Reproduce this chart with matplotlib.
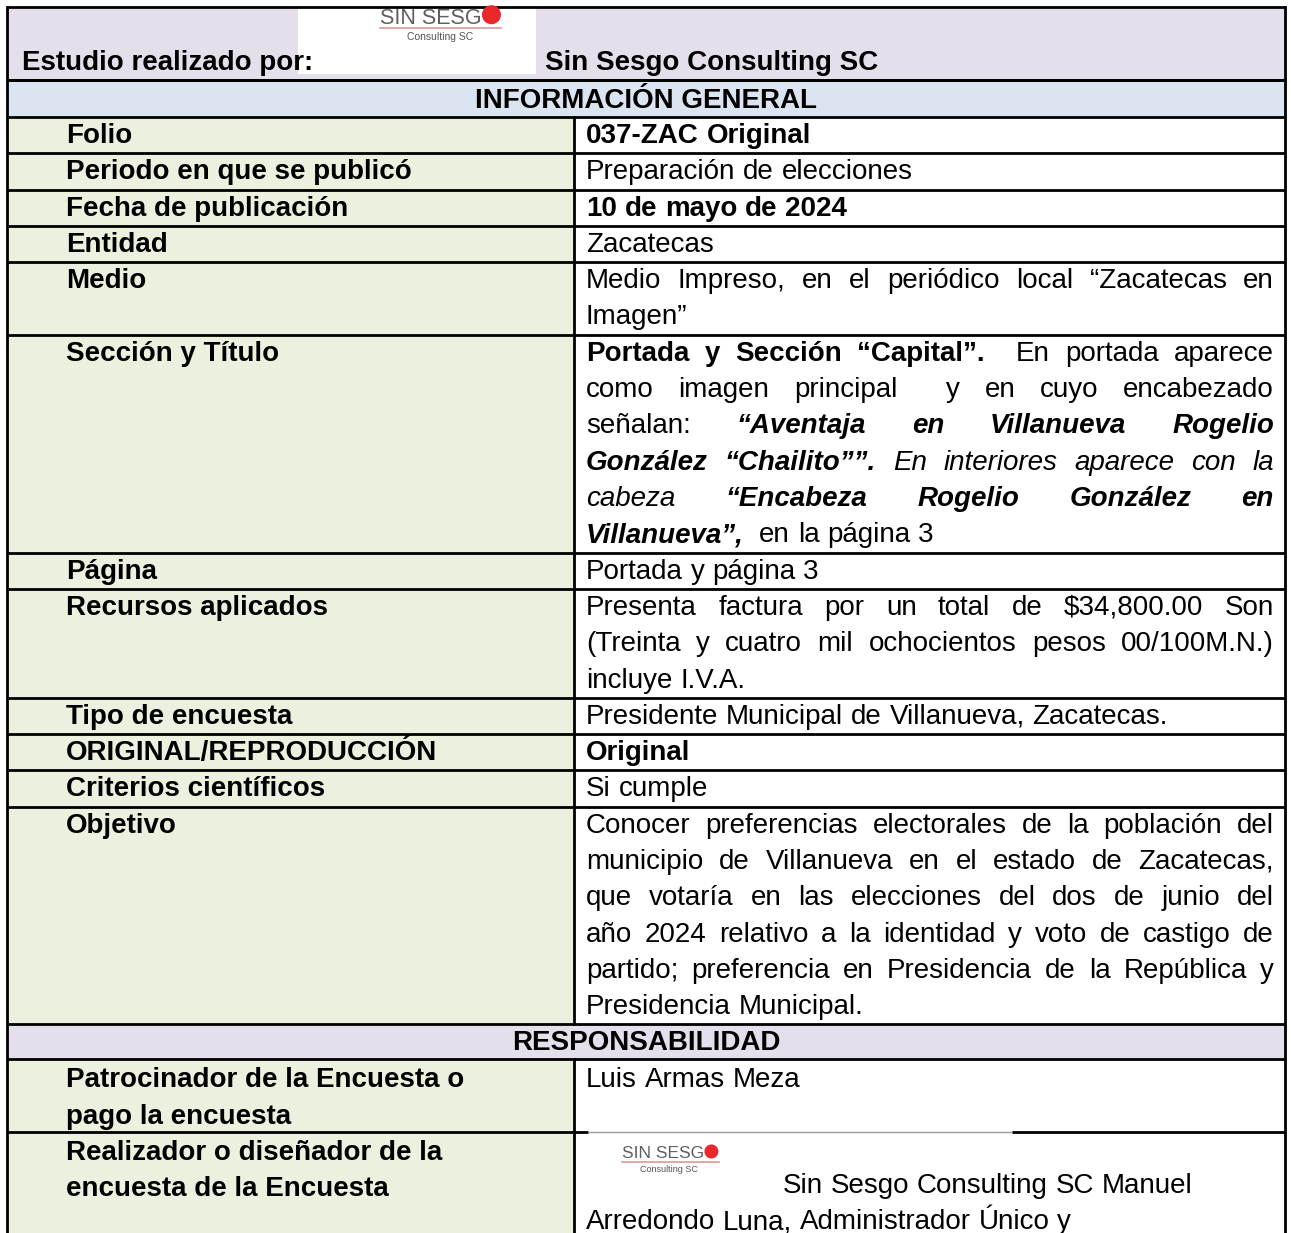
import matplotlib
matplotlib.use("Agg")
import matplotlib.pyplot as plt
from matplotlib.patches import Rectangle, Circle

plt.rcParams['font.family'] = ['Liberation Sans', 'DejaVu Sans']

W, H = 1291, 1233
FS = 20             # body font size (pt, dpi=100)
LINE_H = 36.3       # one text line in the table

# ---------------- data ----------------
header_label = "Estudio realizado por:"
header_company = "Sin Sesgo Consulting SC"
logo_word = "SIN SESG"
logo_sub = "Consulting SC"
section_titles = ["INFORMACIÓN GENERAL", "RESPONSABILIDAD"]

# runs: (style, text); style n=normal b=bold i=italic bi=bold italic
info_labels = [
    ["Folio"],
    ["Periodo en que se publicó"],
    ["Fecha de publicación"],
    ["Entidad"],
    ["Medio"],
    ["Sección y Título"],
    ["Página"],
    ["Recursos aplicados"],
    ["Tipo de encuesta"],
    ["ORIGINAL/REPRODUCCIÓN"],
    ["Criterios científicos"],
    ["Objetivo"],
]
info_values = [
    [[("b", "037-ZAC Original")]],
    [[("n", "Preparación de elecciones")]],
    [[("b", "10 de mayo de 2024")]],
    [[("n", "Zacatecas")]],
    [[("n", "Medio Impreso, en el periódico local “Zacatecas en")],
     [("n", "Imagen”")]],
    [[("b", "Portada y Sección “Capital”."), ("n", "  En portada aparece")],
     [("n", "como imagen principal  y en cuyo encabezado")],
     [("n", "señalan: "), ("bi", "“Aventaja en Villanueva Rogelio")],
     [("bi", "González “Chailito””."), ("i", " En interiores aparece con la")],
     [("i", "cabeza "), ("bi", "“Encabeza Rogelio González en")],
     [("bi", "Villanueva”,"), ("n", "  en la página 3")]],
    [[("n", "Portada y página 3")]],
    [[("n", "Presenta factura por un total de $34,800.00 Son")],
     [("n", "(Treinta y cuatro mil ochocientos pesos 00/100M.N.)")],
     [("n", "incluye I.V.A.")]],
    [[("n", "Presidente Municipal de Villanueva, Zacatecas.")]],
    [[("b", "Original")]],
    [[("n", "Si cumple")]],
    [[("n", "Conocer preferencias electorales de la población del")],
     [("n", "municipio de Villanueva en el estado de Zacatecas,")],
     [("n", "que votaría en las elecciones del dos de junio del")],
     [("n", "año 2024 relativo a la identidad y voto de castigo de")],
     [("n", "partido; preferencia en Presidencia de la República y")],
     [("n", "Presidencia Municipal.")]],
]

resp_labels = [
    ["Patrocinador de la Encuesta o", "pago la encuesta"],
    ["Realizador o diseñador de la", "encuesta de la Encuesta"],
]
resp_values = [
    [[("n", "Luis Armas Meza")]],
    [[("n", "Sin Sesgo Consulting SC Manuel")],
     [("n", "Arredondo Luna, Administrador Único y")]],
]

# ---------------- layout ----------------
X0, XC, X1 = 7, 574, 1285
TOP = 7
LAB_X = 66
VAL_X = 586
VAL_R = 1274

C_LAV = "#E5DFEC"
C_BLUE = "#DBE5F1"
C_GREEN = "#EBF1DE"

STY = {"n": ("normal", "normal"), "b": ("bold", "normal"),
       "i": ("normal", "italic"), "bi": ("bold", "italic")}

fig = plt.figure(figsize=(W / 100, H / 100), dpi=100)
ax = fig.add_axes([0, 0, 1, 1])
ax.set_xlim(0, W)
ax.set_ylim(H, 0)
ax.axis("off")
renderer = fig.canvas.get_renderer()


def width_of(s, sty):
    wt, st = STY[sty]
    t = ax.text(0, 0, s, fontsize=FS, fontweight=wt, fontstyle=st)
    w = t.get_window_extent(renderer).width
    t.remove()
    return w


SPACE_W = width_of("a a", "n") - width_of("aa", "n")


def tokens(line):
    out, pending = [], 0
    for sty, txt in line:
        for j, p in enumerate(txt.split(" ")):
            if j > 0:
                pending += 1
            if p:
                out.append((p, sty, pending if out else 0))
                pending = 0
    return out


def draw_line(line, x0, base, justify):
    toks = tokens(line)
    widths = [width_of(w, s) for w, s, _ in toks]
    nsp = sum(n for _, _, n in toks)
    extra = 0
    if justify and nsp:
        extra = (VAL_R - x0 - sum(widths) - nsp * SPACE_W) / nsp
    x = x0
    for (w, s, n), ww in zip(toks, widths):
        x += n * (SPACE_W + extra)
        wt, st = STY[s]
        ax.text(x, base, w, fontsize=FS, fontweight=wt, fontstyle=st,
                va="baseline", ha="left", color="black")
        x += ww


def draw_logo(x, y, fs_big, fs_small):
    t = ax.text(x, y, logo_word, fontsize=fs_big, color="#5f5f5f",
                va="baseline", ha="left")
    bb = t.get_window_extent(renderer)
    r = bb.height * 0.42
    ax.add_patch(Circle((x + bb.width + r + 1, y - r * 1.05), r,
                        color="#e8282b", zorder=5))
    ax.plot([x, x + bb.width + 2 * r + 2], [y + 4, y + 4],
            color="#d89a9a", lw=1.2)
    ax.text(x + (bb.width + 2 * r) / 2, y + 4 + fs_small * 1.6, logo_sub,
            fontsize=fs_small, color="#555555", va="baseline", ha="center")


def hline(y, xa=X0, xb=X1, color="black", lw=2.0):
    ax.plot([xa, xb], [y, y], color=color, lw=lw, solid_capstyle="butt")


# header row
HDR_B = 80
ax.add_patch(Rectangle((X0, TOP), X1 - X0, HDR_B - TOP, color=C_LAV, lw=0))
ax.add_patch(Rectangle((298, TOP + 1), 238, 66, color="white", lw=0))
ax.text(22, 70, header_label, fontsize=FS, fontweight="bold", va="baseline")
ax.text(545, 70, header_company, fontsize=FS, fontweight="bold", va="baseline")
draw_logo(380, 24, 15.5, 7.5)

# section title 1
S1_B = 117
ax.add_patch(Rectangle((X0, HDR_B), X1 - X0, S1_B - HDR_B, color=C_BLUE, lw=0))
ax.text((X0 + X1) / 2, HDR_B + 28, section_titles[0], fontsize=FS,
        fontweight="bold", ha="center", va="baseline")
hline(HDR_B)

y = S1_B
bounds = [HDR_B, S1_B]
for lab, val in zip(info_labels, info_values):
    n = max(len(lab), len(val))
    h = n * LINE_H
    ax.add_patch(Rectangle((X0, y), XC - X0, h, color=C_GREEN, lw=0))
    for k, s in enumerate(lab):
        ax.text(LAB_X, y + 26 + k * LINE_H, s, fontsize=FS, fontweight="bold",
                va="baseline")
    for k, line in enumerate(val):
        draw_line(line, VAL_X, y + 26 + k * LINE_H,
                  justify=(len(val) > 1 and k < len(val) - 1))
    y += h
    bounds.append(y)

# section title 2
S2_T = y
S2_B = S2_T + 35
ax.add_patch(Rectangle((X0, S2_T), X1 - X0, S2_B - S2_T, color=C_LAV, lw=0))
ax.text((X0 + X1) / 2, S2_T + 26, section_titles[1], fontsize=FS,
        fontweight="bold", ha="center", va="baseline")
bounds.append(S2_B)

# responsibility rows
y = S2_B
P_B = y + 2 * LINE_H
ax.add_patch(Rectangle((X0, y), XC - X0, H - y, color=C_GREEN, lw=0))
for k, s in enumerate(resp_labels[0]):
    ax.text(LAB_X, y + 28 + k * LINE_H, s, fontsize=FS, fontweight="bold",
            va="baseline")
draw_line(resp_values[0][0], VAL_X, y + 28, False)

y = P_B
for k, s in enumerate(resp_labels[1]):
    ax.text(LAB_X, y + 28 + k * LINE_H, s, fontsize=FS, fontweight="bold",
            va="baseline")
draw_logo(622, y + 26, 12.5, 6.5)
draw_line(resp_values[1][0], 783, y + 61, False)
draw_line(resp_values[1][1], VAL_X, y + 97, False)

# grid lines
for b in bounds:
    hline(b)
hline(P_B, X0, XC + 14)
hline(P_B, XC + 14, 1012, color="#9a9a9a", lw=1.0)
hline(P_B, 1012, X1)
hline(TOP)
for xv in (X0, X1):
    ax.plot([xv, xv], [TOP, H], color="black", lw=2.0)
ax.plot([XC, XC], [S1_B, S2_T], color="black", lw=2.0)
ax.plot([XC, XC], [S2_B, H], color="black", lw=2.0)

fig.savefig("out.png", dpi=100)
